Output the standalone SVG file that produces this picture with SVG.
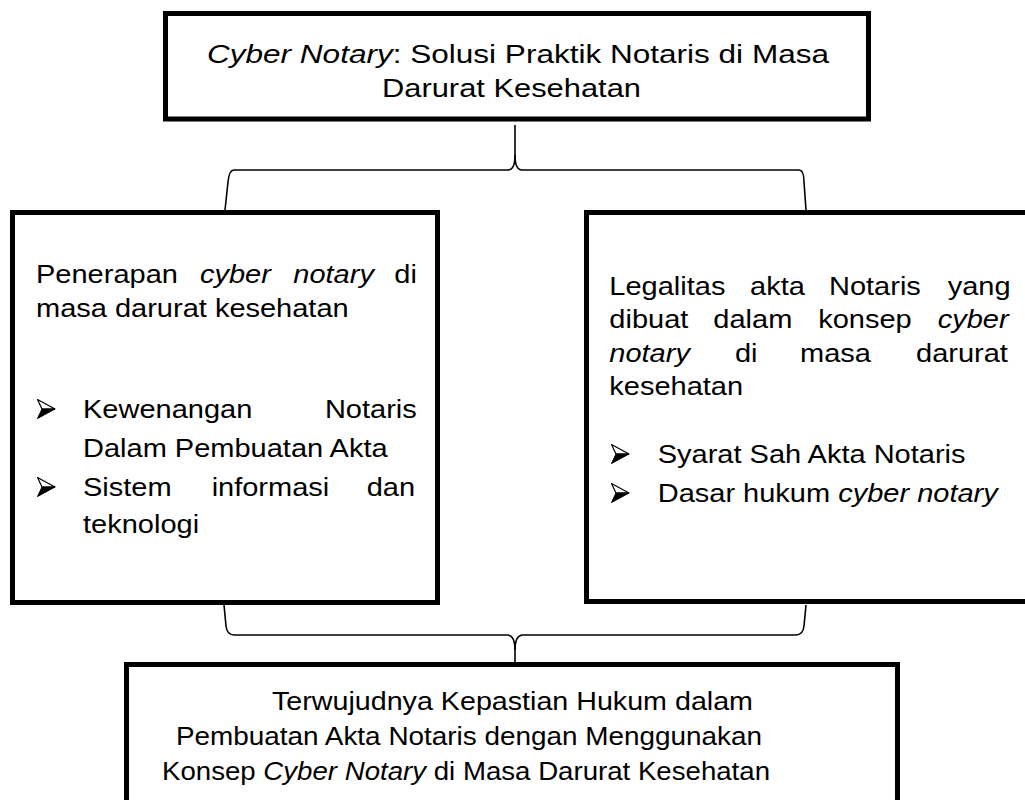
<svg xmlns="http://www.w3.org/2000/svg" width="1025" height="800" viewBox="0 0 1025 800">
<style>
.box{fill:#fff;stroke:#000;stroke-width:5}
.br{fill:none;stroke:#000;stroke-width:1.6}
.t{font-family:"Liberation Sans",Arial,sans-serif;fill:#000}
.m{font-size:25.6px}
.tp{font-size:26.5px}
.bt{font-size:25px}
.i{font-style:italic}
</style>
<defs>
<g id="bullet">
<polygon points="0.5,0.5 18,10 5,10" fill="#fff" stroke="#000" stroke-width="1.2" stroke-linejoin="round"/>
<polygon points="5,10 18,10 0.5,19.5" fill="#000" stroke="#000" stroke-width="1" stroke-linejoin="round"/>
</g>
</defs>
<rect width="1025" height="800" fill="#fff"/>
<g id="connectors">
<path class="br" d="M515,125 L515,155 Q515,170 508,170 L234,170 Q229,170 228,182 L225,210"/>
<path class="br" d="M515,155 Q515,170 522,170 L799,170 Q804,170 804,182 L806,210"/>
<path class="br" d="M224,605 L226,626 Q227,635 234,635 L508,635 Q515,636 515,650 L515,662"/>
<path class="br" d="M806,605 L804,626 Q803,635 796,635 L522,635 Q515,636 515,650"/>
</g>
<g id="node-top">
<rect class="box" x="165.5" y="13.5" width="703" height="105.5"/>
<text class="t tp" x="207" y="63" textLength="622" lengthAdjust="spacingAndGlyphs"><tspan class="i">Cyber Notary</tspan>: Solusi Praktik Notaris di Masa</text>
<text class="t tp" x="382" y="97" textLength="259" lengthAdjust="spacingAndGlyphs">Darurat Kesehatan</text>
</g>
<g id="node-left">
<rect class="box" x="12.5" y="212.5" width="425" height="390"/>
<g class="t m" transform="scale(1.133,1)">
<text y="283"><tspan x="31.8">Penerapan</tspan><tspan x="176.5" class="i">cyber</tspan><tspan x="258.9" class="i">notary</tspan><tspan x="348">di</tspan></text>
<text x="31.8" y="317">masa darurat kesehatan</text>
<text y="418"><tspan x="73.3">Kewenangan</tspan><tspan x="286.8">Notaris</tspan></text>
<text x="73.3" y="457">Dalam Pembuatan Akta</text>
<text y="496"><tspan x="73.3">Sistem</tspan><tspan x="186.8">informasi</tspan><tspan x="323.7">dan</tspan></text>
<text x="73.3" y="533">teknologi</text>
</g>
<use href="#bullet" x="37" y="399"/>
<use href="#bullet" x="37" y="477"/>
</g>
<g id="node-right">
<rect class="box" x="586.5" y="212.5" width="450" height="389"/>
<g class="t m" transform="scale(1.133,1)">
<text y="295"><tspan x="537.8">Legalitas</tspan><tspan x="662">akta</tspan><tspan x="731.7">Notaris</tspan><tspan x="836.5">yang</tspan></text>
<text y="328"><tspan x="537.8">dibuat</tspan><tspan x="629.6">dalam</tspan><tspan x="722.2">konsep</tspan><tspan x="827.6" class="i">cyber</tspan></text>
<text y="362"><tspan x="537.8" class="i">notary</tspan><tspan x="648.7">di</tspan><tspan x="706.1">masa</tspan><tspan x="808.5">darurat</tspan></text>
<text x="537.8" y="395">kesehatan</text>
<text x="580.5" y="463">Syarat Sah Akta Notaris</text>
<text x="580.5" y="502">Dasar hukum <tspan class="i">cyber notary</tspan></text>
</g>
<use href="#bullet" x="611" y="444"/>
<use href="#bullet" x="611" y="483"/>
</g>
<g id="node-bottom">
<rect class="box" x="126.5" y="664.5" width="771" height="150"/>
<text class="t bt" x="272" y="710" textLength="481" lengthAdjust="spacingAndGlyphs">Terwujudnya Kepastian Hukum dalam</text>
<text class="t bt" x="176" y="745" textLength="586" lengthAdjust="spacingAndGlyphs">Pembuatan Akta Notaris dengan Menggunakan</text>
<text class="t bt" x="162" y="780" textLength="608" lengthAdjust="spacingAndGlyphs">Konsep <tspan class="i">Cyber Notary</tspan> di Masa Darurat Kesehatan</text>
</g>
</svg>
